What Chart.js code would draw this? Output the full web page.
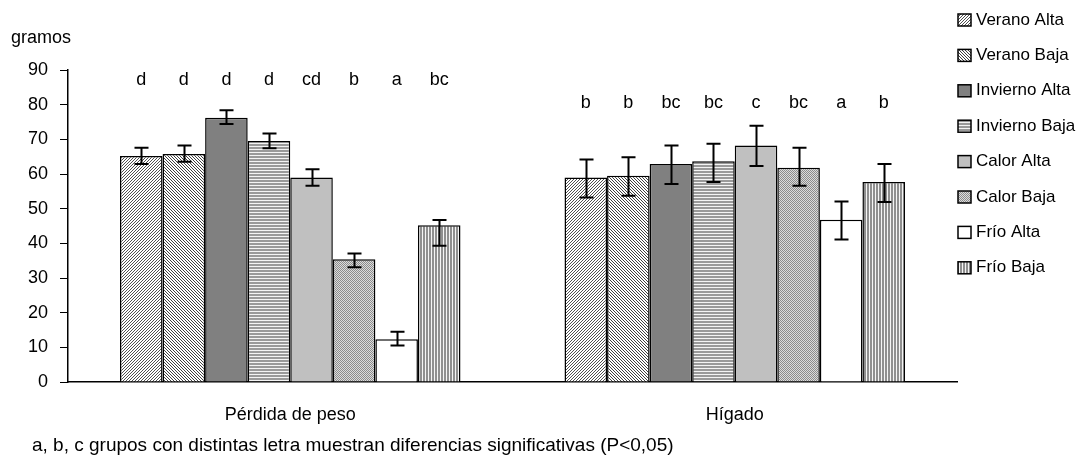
<!DOCTYPE html>
<html>
<head>
<meta charset="utf-8">
<script src="https://cdn.jsdelivr.net/npm/chart.js@4.4.1/dist/chart.umd.min.js"></script>
<style>
  html, body { margin: 0; padding: 0; background: #fff; }
  #wrap { width: 1091px; height: 473px; position: relative; }
</style>
</head>
<body>
<div id="wrap"><canvas id="c"></canvas></div>
<script>
// Categories (x axis) and treatment series
const categories = ['Pérdida de peso', 'Hígado'];
const seriesNames = ['Verano Alta', 'Verano Baja', 'Invierno Alta', 'Invierno Baja',
                     'Calor Alta', 'Calor Baja', 'Frío Alta', 'Frío Baja'];

// Means (gramos) per series, one array per category
const perdidaValues = [65.2, 65.8, 76.2, 69.5, 59.0, 35.4, 12.3, 45.2];
const higadoValues  = [59.0, 59.5, 62.9, 63.7, 68.2, 61.8, 46.8, 57.7];

// Error bar extents above / below the mean
const perdidaErrUp   = [2.4, 2.4, 2.2, 2.2, 2.4, 1.7, 2.2, 1.5];
const perdidaErrDown = [2.3, 2.3, 1.8, 2.1, 2.4, 2.3, 1.8, 5.9];
const higadoErrUp    = [5.2, 5.3, 5.3, 5.0, 5.7, 5.8, 5.3, 5.2];
const higadoErrDown  = [5.8, 5.8, 5.8, 6.0, 5.9, 5.2, 5.7, 5.8];

// Significance letters
const perdidaLetters = ['d', 'd', 'd', 'd', 'cd', 'b', 'a', 'bc'];
const higadoLetters  = ['b', 'b', 'bc', 'bc', 'c', 'bc', 'a', 'b'];

// Y axis ticks
const yTicks = [0, 10, 20, 30, 40, 50, 60, 70, 80, 90];

const footnote = 'a, b, c grupos con distintas letra muestran diferencias significativas (P<0,05)';
const yTitle = 'gramos';

// ---- fill patterns ----
function makeTile(w, h, draw) {
  const c = document.createElement('canvas');
  c.width = w; c.height = h;
  const g = c.getContext('2d');
  draw(g);
  return document.getElementById('c').getContext('2d').createPattern(c, 'repeat');
}
const fills = [
  // fine diagonal hatch "/"
  makeTile(3, 3, g => {
    g.fillStyle = '#fff'; g.fillRect(0, 0, 3, 3);
    g.fillStyle = '#505050';
    for (let i = 0; i < 3; i++) g.fillRect(i, 2 - i, 1, 1);
  }),
  // fine diagonal hatch "\"
  makeTile(3, 3, g => {
    g.fillStyle = '#fff'; g.fillRect(0, 0, 3, 3);
    g.fillStyle = '#404040';
    for (let i = 0; i < 3; i++) g.fillRect(i, i, 1, 1);
  }),
  '#808080',
  // horizontal lines
  makeTile(3, 3, g => {
    g.fillStyle = '#9a9a9a'; g.fillRect(0, 0, 3, 3);
    g.fillStyle = '#f4f4f4'; g.fillRect(0, 2, 3, 1);
  }),
  '#c0c0c0',
  // fine checker
  makeTile(2, 2, g => {
    g.fillStyle = '#dcdcdc'; g.fillRect(0, 0, 2, 2);
    g.fillStyle = '#8c8c8c'; g.fillRect(0, 0, 1, 1); g.fillRect(1, 1, 1, 1);
  }),
  '#ffffff',
  // vertical lines
  makeTile(3, 3, g => {
    g.fillStyle = '#8f8f8f'; g.fillRect(0, 0, 3, 3);
    g.fillStyle = '#f4f4f4'; g.fillRect(2, 0, 1, 3);
  })
];

const FONT = '"Liberation Sans", Arial, sans-serif';

const datasets = seriesNames.map((name, i) => ({
  label: name,
  data: [perdidaValues[i], higadoValues[i]],
  errUp: [perdidaErrUp[i], higadoErrUp[i]],
  errDown: [perdidaErrDown[i], higadoErrDown[i]],
  letters: [perdidaLetters[i], higadoLetters[i]],
  backgroundColor: fills[i],
  borderColor: '#000',
  borderWidth: 1.5,
  borderSkipped: 'bottom',
  barPercentage: 1.0,
  categoryPercentage: 0.766
}));

// letter rows sit at these axis values for each category
const letterLevel = [87.0, 80.4];

const extras = {
  id: 'extras',
  afterDatasetsDraw(chart) {
    const ctx = chart.ctx;
    const y = chart.scales.y;
    ctx.save();
    // error bars
    ctx.strokeStyle = '#000';
    ctx.lineWidth = 2;
    chart.data.datasets.forEach((ds, di) => {
      const meta = chart.getDatasetMeta(di);
      meta.data.forEach((bar, k) => {
        const v = ds.data[k];
        const yt = y.getPixelForValue(v + ds.errUp[k]);
        const yb = y.getPixelForValue(v - ds.errDown[k]);
        const x = Math.round(bar.x) + 0.5;
        ctx.beginPath();
        ctx.moveTo(x, yt); ctx.lineTo(x, yb);
        ctx.moveTo(x - 7, yt); ctx.lineTo(x + 7, yt);
        ctx.moveTo(x - 7, yb); ctx.lineTo(x + 7, yb);
        ctx.stroke();
      });
    });
    // significance letters
    ctx.fillStyle = '#000';
    ctx.font = '18px ' + FONT;
    ctx.textAlign = 'center';
    ctx.textBaseline = 'middle';
    chart.data.datasets.forEach((ds, di) => {
      const meta = chart.getDatasetMeta(di);
      meta.data.forEach((bar, k) => {
        ctx.fillText(ds.letters[k], bar.x, y.getPixelForValue(letterLevel[k]));
      });
    });
    // axis title
    ctx.textAlign = 'left';
    ctx.fillText(yTitle, 11, 38);
    // footnote
    ctx.font = '19px ' + FONT;
    ctx.fillText(footnote, 32, 446);
    // legend
    ctx.font = '17px ' + FONT;
    chart.data.datasets.forEach((ds, i) => {
      const cy = 20 + i * 35.4;
      ctx.fillStyle = ds.backgroundColor;
      ctx.fillRect(958, cy - 6, 13, 12);
      ctx.strokeStyle = '#000';
      ctx.lineWidth = 1.5;
      ctx.strokeRect(958, cy - 6, 13, 12);
      ctx.fillStyle = '#000';
      ctx.fillText(ds.label, 976, cy);
    });
    ctx.restore();
  }
};

new Chart(document.getElementById('c'), {
  type: 'bar',
  data: { labels: categories, datasets },
  options: {
    responsive: true,
    maintainAspectRatio: false,
    animation: false,
    layout: { padding: { left: 0, right: 134, top: 70, bottom: 0 } },
    plugins: { legend: { display: false }, tooltip: { enabled: false } },
    scales: {
      x: {
        grid: { display: false },
        border: { display: true, color: '#000', width: 1.5 },
        ticks: { color: '#000', font: { family: FONT, size: 18 }, padding: 14, maxRotation: 0 },
        afterFit(s) { s.height = 91; }
      },
      y: {
        min: 0, max: 90,
        afterBuildTicks(s) { s.ticks = yTicks.map(v => ({ value: v })); },
        grid: { display: true, drawOnChartArea: false, drawTicks: true, tickLength: 8, color: '#000', lineWidth: 1 },
        border: { display: true, color: '#000', width: 1.5 },
        ticks: { color: '#000', font: { family: FONT, size: 18 }, padding: 12 },
        afterFit(s) { s.width = 68; }
      }
    }
  },
  plugins: [extras]
});
</script>
</body>
</html>
